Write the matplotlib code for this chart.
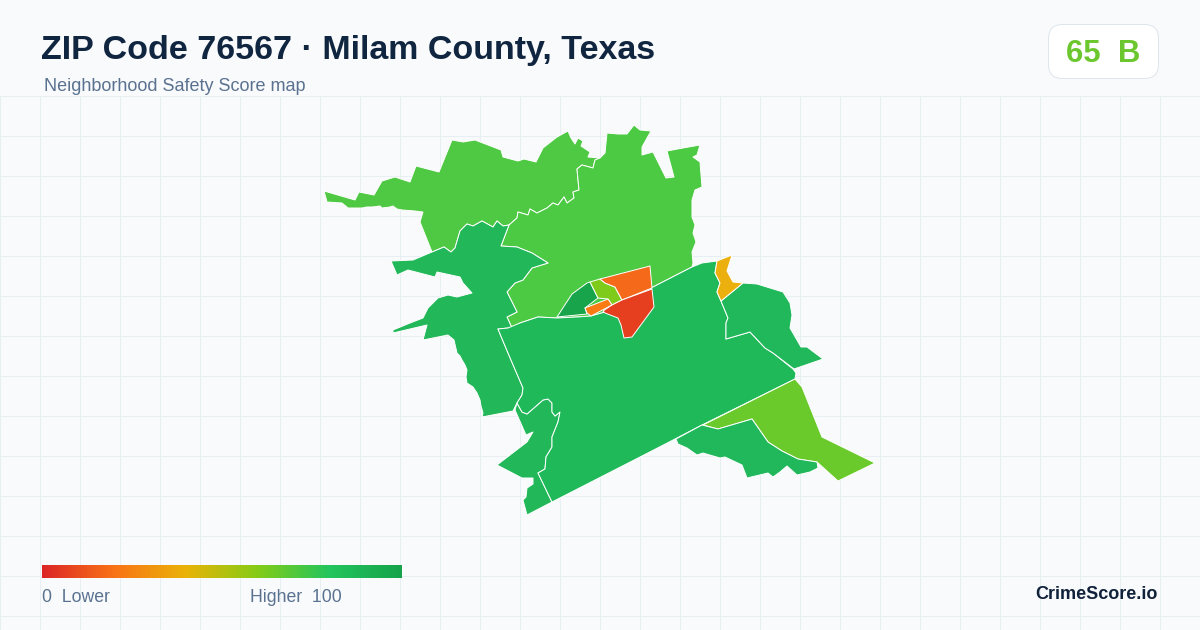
import matplotlib
matplotlib.use("Agg")
import matplotlib.pyplot as plt
import numpy as np
from matplotlib.colors import LinearSegmentedColormap
from matplotlib.patches import FancyBboxPatch, Polygon

plt.rcParams['font.family'] = ['Liberation Sans', 'DejaVu Sans']

# zip areas (pixel coordinates)
nw_area = [(324,191),(355,200),(359,192),(374,195),(382,181),(395,177),(410,182),(416,166),(439,172),(452,140),
           (463,142),(475,140),(501,150),(503,157),(518,161),(524,159),(536,162),(543,148),(557,137),(568,131),
           (571,138),(575,144),(578,138),(583,141),(581,146),(590,152),(588,157),(600,158),(595,160),(593,168),
           (582,165),(577,169),(579,190),(573,192),(574,198),(567,203),(564,197),(558,205),(553,203),(547,208),
           (537,213),(530,209),(528,215),(518,212),(517,218),(509,225),(503,226),(497,221),(493,227),(482,221),
           (473,226),(467,224),(460,231),(455,248),(451,252),(444,247),(432,252),(420,222),(423,212),(415,211),
           (402,210),(397,209),(393,206),(390,207),(382,208),(380,206),(372,207),(367,207),(362,208),(348,208),
           (342,203),(327,202)]
north_area = [(509,225),(517,218),(518,212),(528,215),(530,209),(537,213),(547,208),(553,203),(558,205),(564,197),
              (567,203),(574,198),(573,192),(579,190),(577,169),(582,165),(593,168),(595,160),(600,158),(605,153),
              (607,133),(618,134),(627,134),(634,125),(640,130),(651,131),(642,147),(642,155),(653,152),(666,178),
              (674,177),(667,151),(683,148),(700,145),(697,155),(693,157),(700,162),(702,187),(695,190),(692,200),
              (692,217),(695,225),(693,233),(696,242),(692,252),(693,263),(692,267),(653,287),(643,292),(622,300),
              (605,312),(591,316),(577,317),(557,318),(538,317),(520,323),(512,328),(507,317),(517,312),(507,292),
              (515,283),(523,280),(532,268),(548,263),(532,253),(517,247),(501,246)]
west_area = [(509,225),(503,226),(497,221),(493,227),(482,221),(473,226),(467,224),(460,231),(455,248),(451,252),
             (444,247),(432,252),(413,260),(391,261),(397,275),(408,270),(435,277),(437,272),(460,277),(463,283),
             (472,293),(457,297),(448,295),(438,298),(428,308),(423,318),(410,323),(393,330),(393,333),(427,325),
             (423,340),(448,335),(454,340),(457,353),(460,356),(462,360),(465,365),(467,370),(466,377),(467,383),
             (473,387),(477,393),(480,400),(481,406),(483,413),(482,417),(513,411),(517,403),(522,395),(523,388),
             (508,353),(498,329),(508,328),(512,328),(507,317),(517,312),(507,292),(515,283),(523,280),(532,268),
             (548,263),(532,253),(517,247),(501,246)]
southwest_area = [(515,410),(526,435),(533,432),(527,442),(497,465),(522,478),(533,478),(533,484),(527,488),(526,497),
                  (523,500),(527,515),(552,502),(538,473),(545,469),(546,457),(552,447),(552,437),(558,422),(560,412),
                  (555,416),(552,412),(552,403),(548,399),(543,400),(527,414),(522,412),(517,403)]
central_area = [(498,329),(508,328),(520,323),(538,317),(557,318),(577,317),(591,316),(605,312),(622,300),(643,292),
                (653,287),(692,267),(702,263),(717,261),(715,273),(720,283),(717,292),(721,301),(728,318),(726,323),
                (726,339),(750,332),(765,348),(773,353),(793,369),(796,373),(795,379),(702,425),(675,439),(640,457),
                (552,502),(538,473),(545,469),(546,457),(552,447),(552,437),(558,422),(560,412),(555,416),(552,412),
                (552,403),(548,399),(543,400),(527,414),(522,412),(517,403),(522,395),(523,388),(508,353)]
east_area = [(721,301),(743,283),(757,284),(783,292),(790,303),(792,315),(790,328),(801,347),(807,347),(823,359),
             (794,369),(773,353),(765,348),(750,332),(726,339),(726,323),(728,318)]
yellow_area = [(717,261),(732,255),(727,271),(733,282),(743,283),(721,301),(717,292),(720,283),(715,273)]
southeast_area = [(795,379),(802,387),(822,437),(875,463),(838,481),(817,462),(798,459),(782,451),(768,442),(752,419),
                  (718,429),(703,425)]
south_area = [(676,439),(702,425),(718,429),(752,419),(768,442),(782,451),(798,459),(817,462),(818,468),(810,472),
              (797,475),(787,466),(780,472),(773,477),(768,473),(747,478),(742,465),(725,457),(720,458),(703,453),
              (697,455),(687,448),(678,444)]
town_dark = [(557,317),(572,294),(587,283),(590,282),(598,298),(585,308),(587,314)]
town_lime = [(590,282),(600,279),(605,283),(615,287),(622,300),(612,305),(608,299),(598,298)]
town_orange = [(600,279),(650,266),(652,288),(622,300),(615,287),(605,283)]
town_strip = [(585,308),(608,299),(612,305),(591,316),(587,313)]
town_red = [(652,289),(654,307),(632,337),(624,338),(621,325),(618,318),(605,313),(603,311),(612,305),(622,300)]

areas = [nw_area, north_area, west_area, southwest_area, central_area, east_area, yellow_area, southeast_area,
         south_area, town_dark, town_lime, town_orange, town_strip, town_red]
area_colors = ['#4fc943', '#4cca44', '#22b859', '#22b859', '#1fb95a', '#20b85a', '#ecb00e', '#6aca2b',
               '#20b85a', '#17a44b', '#7fcb1c', '#f56a1a', '#fa7a14', '#e63f20']

legend_stops = ['#dc2626', '#f97316', '#eab308', '#84cc16', '#22c55e', '#16a34a']
legend_values = np.linspace(0, 100, 256)

grid_x = np.arange(0, 1201, 40)
grid_y = np.arange(96, 631, 40)

fig = plt.figure(figsize=(12, 6.3), dpi=100, facecolor='#f8fafc')
ax = fig.add_axes([0, 0, 1, 1])
ax.set_xlim(0, 1200)
ax.set_ylim(630, 0)
ax.axis('off')

for gx in grid_x:
    ax.plot([gx, gx], [96, 630], color='#e8eff3', lw=0.72, zorder=1)
for gy in grid_y:
    ax.plot([0, 1200], [gy, gy], color='#e8eff3', lw=0.72, zorder=1)

for pts, col in zip(areas, area_colors):
    ax.add_patch(Polygon(pts, closed=True, facecolor=col, edgecolor='white', lw=0.7, joinstyle='round', zorder=2))

ax.text(41, 59, 'ZIP Code 76567 · Milam County, Texas', fontsize=24.5, fontweight='bold', color='#10253f',
        ha='left', va='baseline', zorder=5)
ax.text(44, 91, 'Neighborhood Safety Score map', fontsize=12.96, color='#5a7290', ha='left', va='baseline', zorder=5)

ax.add_patch(FancyBboxPatch((1048.5, 24.5), 110, 54, boxstyle='round,pad=0,rounding_size=14', facecolor='white',
                            edgecolor='#dfe5ee', lw=0.72, zorder=4))
ax.text(1103, 62, '65  B', fontsize=22.4, fontweight='bold', color='#6cc72f', ha='center', va='baseline', zorder=5)

cmap = LinearSegmentedColormap.from_list('safety', legend_stops)
ax.imshow(legend_values[np.newaxis, :], extent=(42, 402, 578, 565), cmap=cmap, aspect='auto', zorder=4)
ax.set_xlim(0, 1200)
ax.set_ylim(630, 0)
ax.text(42, 602, '0  Lower', fontsize=12.7, color='#5a7290', ha='left', va='baseline', zorder=5)
ax.text(342, 602, 'Higher  100', fontsize=12.7, color='#5a7290', ha='right', va='baseline', zorder=5)
ax.text(1158, 599, 'CrimeScore.io', fontsize=13, fontweight='bold', color='#10213a', ha='right', va='baseline', zorder=5)

fig.savefig('out.png', dpi=100, facecolor=fig.get_facecolor())
